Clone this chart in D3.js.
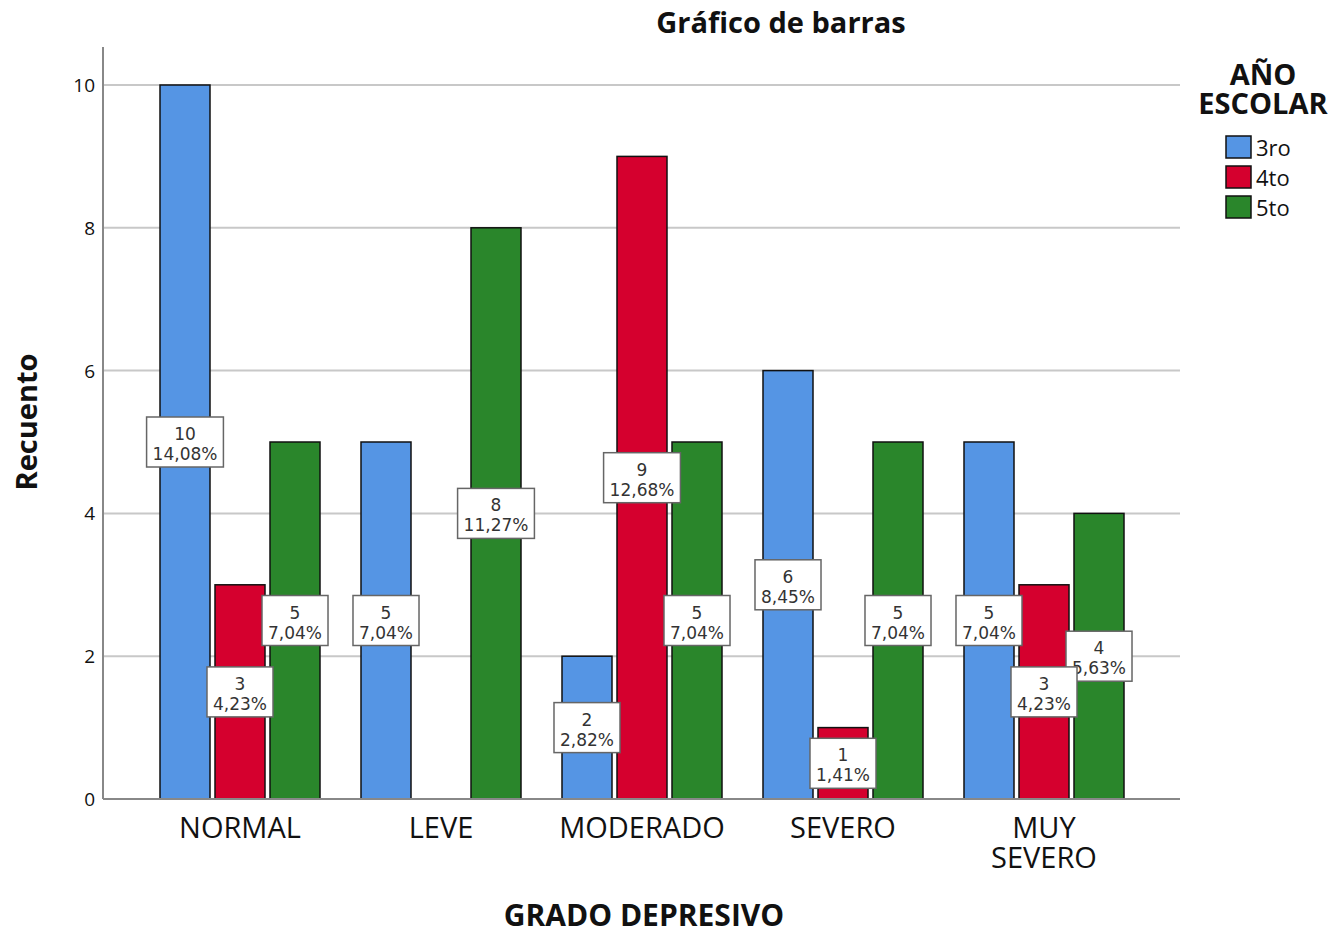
<!DOCTYPE html>
<html>
<head>
<meta charset="utf-8">
<script src="https://cdn.jsdelivr.net/npm/d3@7"></script>
<style>
  body { margin: 0; background: #fff; }
  text { font-family: "Open Sans", sans-serif; fill: #111; }
  .box-text { font-family: "DejaVu Sans", sans-serif; fill: #333; }
</style>
</head>
<body>
<div id="chart"></div>
<script>
// Data
var categories = ["NORMAL", "LEVE", "MODERADO", "SEVERO", "MUY SEVERO"];
var series = ["3ro", "4to", "5to"];
var values3ro = [10, 5, 2, 6, 5];
var values4to = [3, 0, 9, 1, 3];
var values5to = [5, 8, 5, 5, 4];
var yTicks = [0, 2, 4, 6, 8, 10];
var colours = ["#5595e4", "#d5002e", "#2a862b"];

var width = 1337, height = 930;
var plotLeft = 103, plotRight = 1180, plotTop = 47, plotBottom = 799;

var allValues = [values3ro, values4to, values5to];
var total = d3.sum(allValues, function(s) { return d3.sum(s); });

var svg = d3.select("#chart").append("svg")
    .attr("width", width)
    .attr("height", height);

var y = d3.scaleLinear()
    .domain([0, 10])
    .range([plotBottom, 85]);

var x0 = d3.scaleBand()
    .domain(categories)
    .range([139.5, 1144.5])
    .padding(0);

var x1 = d3.scaleBand()
    .domain(series)
    .range([-82.5, 82.5])
    .paddingInner(5 / 55)
    .paddingOuter(5 / 110);

// gridlines
svg.append("g").selectAll("line")
    .data(yTicks.filter(function(d) { return d > 0; }))
    .enter().append("line")
    .attr("x1", plotLeft).attr("x2", plotRight)
    .attr("y1", function(d) { return y(d); })
    .attr("y2", function(d) { return y(d); })
    .style("stroke", "#c8c8c8")
    .style("stroke-width", 2);

// tick labels
svg.append("g").selectAll("text")
    .data(yTicks)
    .enter().append("text")
    .attr("x", 95)
    .attr("y", function(d) { return y(d) + 7; })
    .attr("text-anchor", "end")
    .style("font-size", "19px")
    .text(function(d) { return d; });

// bars
var rows = [];
categories.forEach(function(c, i) {
    series.forEach(function(s, j) {
        rows.push({cat: c, ser: s, idx: j, value: allValues[j][i]});
    });
});

svg.append("g").selectAll("rect")
    .data(rows.filter(function(d) { return d.value > 0; }))
    .enter().append("rect")
    .attr("x", function(d) { return x0(d.cat) + x0.bandwidth() / 2 + x1(d.ser); })
    .attr("y", function(d) { return y(d.value); })
    .attr("width", x1.bandwidth())
    .attr("height", function(d) { return y(0) - y(d.value); })
    .style("fill", function(d) { return colours[d.idx]; })
    .style("stroke", "#111")
    .style("stroke-width", 1.5);

// axis lines
svg.append("line")
    .attr("x1", plotLeft).attr("x2", plotLeft)
    .attr("y1", plotTop).attr("y2", plotBottom)
    .style("stroke", "#888").style("stroke-width", 2);
svg.append("line")
    .attr("x1", plotLeft).attr("x2", plotRight)
    .attr("y1", plotBottom).attr("y2", plotBottom)
    .style("stroke", "#888").style("stroke-width", 2);

// value labels (4to drawn last, it sits on top in the original)
var labelOrder = [0, 2, 1];
var labelRows = rows.filter(function(d) { return d.value > 0; })
    .sort(function(a, b) { return labelOrder.indexOf(a.idx) - labelOrder.indexOf(b.idx); });

var fmt = d3.format(".2f");
var labels = svg.append("g").selectAll("g")
    .data(labelRows)
    .enter().append("g")
    .attr("transform", function(d) {
        var cx = x0(d.cat) + x0.bandwidth() / 2 + x1(d.ser) + x1.bandwidth() / 2;
        return "translate(" + cx + "," + y(d.value / 2) + ")";
    });

labels.each(function(d) {
    var g = d3.select(this);
    var pct = fmt(d.value / total * 100).replace(".", ",") + "%";
    var rect = g.append("rect")
        .style("fill", "#fff")
        .style("stroke", "#666")
        .style("stroke-width", 1.5);
    g.append("text").attr("class", "box-text")
        .attr("text-anchor", "middle").attr("y", -2)
        .style("font-size", "17px").text(d.value);
    var t2 = g.append("text").attr("class", "box-text")
        .attr("text-anchor", "middle").attr("y", 18)
        .style("font-size", "17px").text(pct);
    var w = t2.node().getComputedTextLength() + 12;
    rect.attr("x", -w / 2).attr("y", -25).attr("width", w).attr("height", 50);
});

// category labels
svg.append("g").selectAll("text")
    .data(categories)
    .enter().append("text")
    .attr("text-anchor", "middle")
    .attr("x", function(d) { return x0(d) + x0.bandwidth() / 2; })
    .attr("y", 838)
    .style("font-size", "29px")
    .each(function(d) {
        var words = d.split(" ");
        var t = d3.select(this);
        words.forEach(function(w, i) {
            t.append("tspan")
                .attr("x", x0(d) + x0.bandwidth() / 2)
                .attr("dy", i === 0 ? 0 : 30)
                .text(w);
        });
    });

// titles
svg.append("text")
    .attr("x", 781).attr("y", 33)
    .attr("text-anchor", "middle")
    .style("font-size", "29px").style("font-weight", "bold")
    .text("Gráfico de barras");

svg.append("text")
    .attr("transform", "translate(37,422) rotate(-90)")
    .attr("text-anchor", "middle")
    .style("font-size", "29px").style("font-weight", "bold")
    .text("Recuento");

svg.append("text")
    .attr("x", 644).attr("y", 926)
    .attr("text-anchor", "middle")
    .style("font-size", "30px").style("font-weight", "bold")
    .text("GRADO DEPRESIVO");

// legend
var legend = svg.append("g");
legend.append("text")
    .attr("x", 1263).attr("y", 85)
    .attr("text-anchor", "middle")
    .style("font-size", "29px").style("font-weight", "bold")
    .text("AÑO");
legend.append("text")
    .attr("x", 1263).attr("y", 114)
    .attr("text-anchor", "middle")
    .style("font-size", "29px").style("font-weight", "bold")
    .text("ESCOLAR");

var items = legend.selectAll(".legend")
    .data(series)
    .enter().append("g")
    .attr("class", "legend")
    .attr("transform", function(d, i) { return "translate(1226," + (136 + i * 30) + ")"; });
items.append("rect")
    .attr("width", 25).attr("height", 22)
    .style("fill", function(d, i) { return colours[i]; })
    .style("stroke", "#111").style("stroke-width", 1.5);
items.append("text")
    .attr("x", 30).attr("y", 20)
    .style("font-size", "22px")
    .text(function(d) { return d; });
</script>
</body>
</html>
